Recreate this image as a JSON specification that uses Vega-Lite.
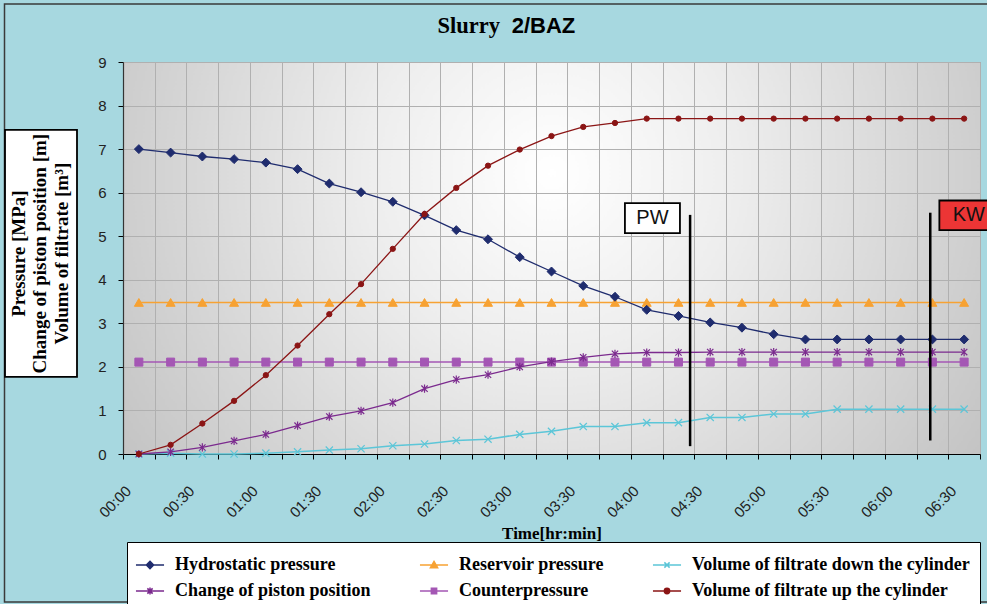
{
  "$schema": "https://vega.github.io/schema/vega-lite/v6.json",
  "width": 857,
  "height": 392,
  "autosize": "none",
  "padding": {"left": 123, "top": 62, "right": 7, "bottom": 150},
  "background": "#a7d8e0",
  "view": {
    "stroke": "#8c8c8c",
    "strokeWidth": 1,
    "fill": {"gradient": "radial", "x1": 0.5, "y1": 0.4, "r1": 0, "x2": 0.5, "y2": 0.4, "r2": 0.62,
      "stops": [{"offset": 0, "color": "#ffffff"}, {"offset": 0.35, "color": "#ededed"}, {"offset": 1, "color": "#c1c1c1"}]}
  },
  "config": {"font": "Liberation Sans"},
  "datasets": {
    "series": [
      {"t": 0, "Hydrostatic pressure": 7.0, "Reservoir pressure": 3.48, "Volume of filtrate down the cylinder": 0, "Change of piston position": 0, "Counterpressure": 2.11, "Volume of filtrate up the cylinder": 0},
      {"t": 15, "Hydrostatic pressure": 6.92, "Reservoir pressure": 3.48, "Volume of filtrate down the cylinder": 0.02, "Change of piston position": 0.05, "Counterpressure": 2.11, "Volume of filtrate up the cylinder": 0.21},
      {"t": 30, "Hydrostatic pressure": 6.83, "Reservoir pressure": 3.48, "Volume of filtrate down the cylinder": 0, "Change of piston position": 0.15, "Counterpressure": 2.11, "Volume of filtrate up the cylinder": 0.70},
      {"t": 45, "Hydrostatic pressure": 6.77, "Reservoir pressure": 3.48, "Volume of filtrate down the cylinder": 0, "Change of piston position": 0.30, "Counterpressure": 2.11, "Volume of filtrate up the cylinder": 1.22},
      {"t": 60, "Hydrostatic pressure": 6.69, "Reservoir pressure": 3.48, "Volume of filtrate down the cylinder": 0.02, "Change of piston position": 0.45, "Counterpressure": 2.11, "Volume of filtrate up the cylinder": 1.81},
      {"t": 75, "Hydrostatic pressure": 6.54, "Reservoir pressure": 3.48, "Volume of filtrate down the cylinder": 0.05, "Change of piston position": 0.65, "Counterpressure": 2.11, "Volume of filtrate up the cylinder": 2.49},
      {"t": 90, "Hydrostatic pressure": 6.21, "Reservoir pressure": 3.48, "Volume of filtrate down the cylinder": 0.09, "Change of piston position": 0.86, "Counterpressure": 2.11, "Volume of filtrate up the cylinder": 3.21},
      {"t": 105, "Hydrostatic pressure": 6.01, "Reservoir pressure": 3.48, "Volume of filtrate down the cylinder": 0.12, "Change of piston position": 0.99, "Counterpressure": 2.11, "Volume of filtrate up the cylinder": 3.90},
      {"t": 120, "Hydrostatic pressure": 5.79, "Reservoir pressure": 3.48, "Volume of filtrate down the cylinder": 0.19, "Change of piston position": 1.18, "Counterpressure": 2.11, "Volume of filtrate up the cylinder": 4.71},
      {"t": 135, "Hydrostatic pressure": 5.48, "Reservoir pressure": 3.48, "Volume of filtrate down the cylinder": 0.23, "Change of piston position": 1.50, "Counterpressure": 2.11, "Volume of filtrate up the cylinder": 5.51},
      {"t": 150, "Hydrostatic pressure": 5.14, "Reservoir pressure": 3.48, "Volume of filtrate down the cylinder": 0.31, "Change of piston position": 1.71, "Counterpressure": 2.11, "Volume of filtrate up the cylinder": 6.11},
      {"t": 165, "Hydrostatic pressure": 4.93, "Reservoir pressure": 3.48, "Volume of filtrate down the cylinder": 0.34, "Change of piston position": 1.82, "Counterpressure": 2.11, "Volume of filtrate up the cylinder": 6.62},
      {"t": 180, "Hydrostatic pressure": 4.52, "Reservoir pressure": 3.48, "Volume of filtrate down the cylinder": 0.45, "Change of piston position": 2.00, "Counterpressure": 2.11, "Volume of filtrate up the cylinder": 6.99},
      {"t": 195, "Hydrostatic pressure": 4.19, "Reservoir pressure": 3.48, "Volume of filtrate down the cylinder": 0.52, "Change of piston position": 2.12, "Counterpressure": 2.11, "Volume of filtrate up the cylinder": 7.30},
      {"t": 210, "Hydrostatic pressure": 3.86, "Reservoir pressure": 3.48, "Volume of filtrate down the cylinder": 0.63, "Change of piston position": 2.22, "Counterpressure": 2.11, "Volume of filtrate up the cylinder": 7.51},
      {"t": 225, "Hydrostatic pressure": 3.61, "Reservoir pressure": 3.48, "Volume of filtrate down the cylinder": 0.63, "Change of piston position": 2.30, "Counterpressure": 2.11, "Volume of filtrate up the cylinder": 7.60},
      {"t": 240, "Hydrostatic pressure": 3.31, "Reservoir pressure": 3.48, "Volume of filtrate down the cylinder": 0.72, "Change of piston position": 2.33, "Counterpressure": 2.11, "Volume of filtrate up the cylinder": 7.70},
      {"t": 255, "Hydrostatic pressure": 3.17, "Reservoir pressure": 3.48, "Volume of filtrate down the cylinder": 0.72, "Change of piston position": 2.33, "Counterpressure": 2.11, "Volume of filtrate up the cylinder": 7.70},
      {"t": 270, "Hydrostatic pressure": 3.02, "Reservoir pressure": 3.48, "Volume of filtrate down the cylinder": 0.84, "Change of piston position": 2.34, "Counterpressure": 2.11, "Volume of filtrate up the cylinder": 7.70},
      {"t": 285, "Hydrostatic pressure": 2.90, "Reservoir pressure": 3.48, "Volume of filtrate down the cylinder": 0.84, "Change of piston position": 2.34, "Counterpressure": 2.11, "Volume of filtrate up the cylinder": 7.70},
      {"t": 300, "Hydrostatic pressure": 2.75, "Reservoir pressure": 3.48, "Volume of filtrate down the cylinder": 0.92, "Change of piston position": 2.34, "Counterpressure": 2.11, "Volume of filtrate up the cylinder": 7.70},
      {"t": 315, "Hydrostatic pressure": 2.63, "Reservoir pressure": 3.48, "Volume of filtrate down the cylinder": 0.92, "Change of piston position": 2.34, "Counterpressure": 2.11, "Volume of filtrate up the cylinder": 7.70},
      {"t": 330, "Hydrostatic pressure": 2.63, "Reservoir pressure": 3.48, "Volume of filtrate down the cylinder": 1.03, "Change of piston position": 2.34, "Counterpressure": 2.11, "Volume of filtrate up the cylinder": 7.70},
      {"t": 345, "Hydrostatic pressure": 2.63, "Reservoir pressure": 3.48, "Volume of filtrate down the cylinder": 1.03, "Change of piston position": 2.34, "Counterpressure": 2.11, "Volume of filtrate up the cylinder": 7.70},
      {"t": 360, "Hydrostatic pressure": 2.63, "Reservoir pressure": 3.48, "Volume of filtrate down the cylinder": 1.03, "Change of piston position": 2.34, "Counterpressure": 2.11, "Volume of filtrate up the cylinder": 7.70},
      {"t": 375, "Hydrostatic pressure": 2.63, "Reservoir pressure": 3.48, "Volume of filtrate down the cylinder": 1.03, "Change of piston position": 2.34, "Counterpressure": 2.11, "Volume of filtrate up the cylinder": 7.70},
      {"t": 390, "Hydrostatic pressure": 2.63, "Reservoir pressure": 3.48, "Volume of filtrate down the cylinder": 1.03, "Change of piston position": 2.34, "Counterpressure": 2.11, "Volume of filtrate up the cylinder": 7.70}
    ],
    "frame": [
      {"label": "frame", "t": -63.5, "t2": 420, "v": 10.33, "v2": -3.40}
    ],
    "title1": [
      {"label": "Slurry", "t": 170.66, "v": 9.666}
    ],
    "title2": [
      {"label": "2/BAZ", "t": 176.19, "v": 9.666}
    ],
    "boxes": [
      {"label": "axis", "t": -63.26, "t2": -29.24, "v": 7.44, "v2": 1.77},
      {"label": "PW", "t": 229.7, "t2": 255.7, "v": 5.76, "v2": 5.07},
      {"label": "KW", "t": 378.3, "t2": 406, "v": 5.82, "v2": 5.14}
    ],
    "boxtext": [
      {"label": "PW", "t": 242.7, "v": 5.42},
      {"label": "KW", "t": 392.2, "v": 5.48}
    ],
    "ytitle": [
      {"label": "Pressure [MPa]\nChange of piston position [m]\nVolume of filtrate [m³]", "t": -56.65, "v": 4.6}
    ],
    "markers": [
      {"label": "PW", "t": 260.5, "v": 0.18, "v2": 5.49},
      {"label": "KW", "t": 374, "v": 0.31, "v2": 5.54}
    ]
  },
  "encoding": {
    "x": {
      "field": "t", "type": "quantitative",
      "scale": {"domain": [-7.5, 397.5], "nice": false, "zero": false},
      "axis": {
        "values": [-7.5, 7.5, 22.5, 37.5, 52.5, 67.5, 82.5, 97.5, 112.5, 127.5, 142.5, 157.5, 172.5, 187.5, 202.5, 217.5, 232.5, 247.5, 262.5, 277.5, 292.5, 307.5, 322.5, 337.5, 352.5, 367.5, 382.5, 397.5],
        "labelExpr": "(datum.value + 7.5) % 30 == 0 ? pad(toString(floor((datum.value + 7.5) / 60)), 2, '0', 'left') + ':' + pad(toString((datum.value + 7.5) % 60), 2, '0', 'left') : ''",
        "labelAngle": -45, "labelAlign": "right", "labelBaseline": "middle",
        "labelOffset": 5, "labelPadding": 29, "labelOverlap": false, "labelFlush": false, "labelBound": false,
        "labelFont": "Liberation Sans", "labelFontSize": 15, "labelColor": "#222222",
        "tickSize": 5, "tickColor": "#000000", "domainColor": "#000000", "domainWidth": 1.2,
        "grid": true, "gridColor": "#b0b0b0", "gridWidth": 1,
        "title": "Time[hr:min]", "titleFont": "Liberation Serif", "titleFontSize": 17, "titleFontWeight": "bold", "titleColor": "#000000", "titlePadding": 5
      }
    },
    "y": {
      "field": "v", "type": "quantitative",
      "scale": {"domain": [0, 9], "nice": false, "zero": false},
      "axis": {
        "values": [0, 1, 2, 3, 4, 5, 6, 7, 8, 9],
        "labelFont": "Liberation Sans", "labelFontSize": 15, "labelColor": "#222222", "labelPadding": 12,
        "tickSize": 5, "tickColor": "#000000", "domainColor": "#333333", "domainWidth": 1.2,
        "grid": true, "gridColor": "#b0b0b0", "gridWidth": 1,
        "title": null
      }
    }
  },
  "layer": [
    {
      "data": {"name": "frame"},
      "mark": {"type": "rect", "filled": false, "stroke": "#3a3a3a", "strokeWidth": 1.5},
      "encoding": {
        "x2": {"field": "t2"},
        "y2": {"field": "v2"}
      }
    },
    {
      "data": {"name": "title1"},
      "mark": {"type": "text", "font": "Liberation Serif", "fontSize": 22.5, "fontWeight": "bold", "color": "#000000", "align": "right", "baseline": "alphabetic"},
      "encoding": {"text": {"field": "label"}}
    },
    {
      "data": {"name": "title2"},
      "mark": {"type": "text", "font": "Liberation Sans", "fontSize": 22, "fontWeight": "bold", "color": "#000000", "align": "left", "baseline": "alphabetic"},
      "encoding": {"text": {"field": "label"}}
    },
    {
      "data": {"name": "boxes"},
      "mark": {"type": "rect", "stroke": "#000000", "strokeWidth": 1.8},
      "encoding": {
        "x2": {"field": "t2"},
        "y2": {"field": "v2"},
        "fill": {"condition": {"test": "datum.label == 'KW'", "value": "#ec3535"}, "value": "#ffffff"}
      }
    },
    {
      "data": {"name": "boxtext"},
      "mark": {"type": "text", "font": "Liberation Sans", "fontSize": 20, "color": "#111111", "align": "center", "baseline": "middle"},
      "encoding": {"text": {"field": "label"}}
    },
    {
      "data": {"name": "ytitle"},
      "mark": {"type": "text", "font": "Liberation Serif", "fontSize": 19, "fontWeight": "bold", "color": "#000000", "align": "center", "baseline": "middle", "angle": 270, "lineBreak": "\n", "lineHeight": 21.5},
      "encoding": {"text": {"field": "label"}}
    },
    {
      "data": {"name": "series"},
      "transform": [{"fold": ["Hydrostatic pressure", "Reservoir pressure", "Volume of filtrate down the cylinder", "Change of piston position", "Counterpressure", "Volume of filtrate up the cylinder"], "as": ["series", "v"]}],
      "layer": [
        {
          "transform": [{"filter": "datum.series == 'Counterpressure'"}],
          "layer": [
            {"mark": {"type": "line", "color": "#a457b4", "strokeWidth": 1.5}},
            {"mark": {"type": "point", "shape": "square", "filled": true, "size": 64, "color": "#a457b4", "stroke": "#a457b4", "strokeWidth": 1, "opacity": 1}}
          ]
        },
        {
          "transform": [{"filter": "datum.series == 'Reservoir pressure'"}],
          "layer": [
            {"mark": {"type": "line", "color": "#f7a233", "strokeWidth": 1.5}},
            {"mark": {"type": "point", "shape": "triangle-up", "filled": true, "size": 80, "color": "#f7a233", "stroke": "#f7a233", "strokeWidth": 1, "opacity": 1}}
          ]
        },
        {
          "transform": [{"filter": "datum.series == 'Volume of filtrate down the cylinder'"}],
          "layer": [
            {"mark": {"type": "line", "color": "#5cc6d8", "strokeWidth": 1.5}},
            {"mark": {"type": "point", "shape": "M-1,-1L1,1M-1,1L1,-1", "filled": false, "size": 52, "color": "#5cc6d8", "strokeWidth": 1.2, "opacity": 1}}
          ]
        },
        {
          "transform": [{"filter": "datum.series == 'Change of piston position'"}],
          "layer": [
            {"mark": {"type": "line", "color": "#7b2a8e", "strokeWidth": 1.3}},
            {"mark": {"type": "point", "shape": "M-1,-1L1,1M-1,1L1,-1M0,-1.3V1.3", "filled": false, "size": 40, "color": "#7b2a8e", "strokeWidth": 1.2, "opacity": 1}}
          ]
        },
        {
          "transform": [{"filter": "datum.series == 'Hydrostatic pressure'"}],
          "layer": [
            {"mark": {"type": "line", "color": "#1f2c6e", "strokeWidth": 1.3}},
            {"mark": {"type": "point", "shape": "diamond", "filled": true, "size": 80, "color": "#1f2c6e", "stroke": "#1f2c6e", "strokeWidth": 1, "opacity": 1}}
          ]
        },
        {
          "transform": [{"filter": "datum.series == 'Volume of filtrate up the cylinder'"}],
          "layer": [
            {"mark": {"type": "line", "color": "#8b1515", "strokeWidth": 1.3}},
            {"mark": {"type": "point", "shape": "circle", "filled": true, "size": 28, "color": "#8b1515", "stroke": "#8b1515", "strokeWidth": 1, "opacity": 1}}
          ]
        },
        {
          "transform": [{"filter": "datum.t < -1000"}],
          "mark": {"type": "point", "filled": true, "opacity": 1},
          "encoding": {
            "color": {"field": "series", "type": "nominal",
              "scale": {"domain": ["Hydrostatic pressure", "Reservoir pressure", "Volume of filtrate down the cylinder", "Change of piston position", "Counterpressure", "Volume of filtrate up the cylinder"],
                        "range": ["#1f2c6e", "#f7a233", "#5cc6d8", "#7b2a8e", "#a457b4", "#8b1515"]},
              "legend": {"orient": "none", "legendX": 4, "legendY": 480, "columns": 3, "direction": "horizontal", "title": null,
                "symbolSize": 576, "symbolStrokeWidth": 1.5,
                "labelFont": "Liberation Serif", "labelFontSize": 18, "labelFontWeight": "bold", "labelColor": "#000000", "labelLimit": 400, "labelOffset": 12,
                "columnPadding": 45, "rowPadding": 4, "padding": 10, "fillColor": "#ffffff", "strokeColor": "#000000"}},
            "stroke": {"field": "series", "type": "nominal",
              "scale": {"domain": ["Hydrostatic pressure", "Reservoir pressure", "Volume of filtrate down the cylinder", "Change of piston position", "Counterpressure", "Volume of filtrate up the cylinder"],
                        "range": ["#1f2c6e", "#f7a233", "#5cc6d8", "#7b2a8e", "#a457b4", "#8b1515"]},
              "legend": {"orient": "none", "legendX": 4, "legendY": 480, "columns": 3, "direction": "horizontal", "title": null,
                "symbolSize": 576, "symbolStrokeWidth": 1.5,
                "labelFont": "Liberation Serif", "labelFontSize": 18, "labelFontWeight": "bold", "labelColor": "#000000", "labelLimit": 400, "labelOffset": 12,
                "columnPadding": 45, "rowPadding": 4, "padding": 10, "fillColor": "#ffffff", "strokeColor": "#000000"}},
            "shape": {"field": "series", "type": "nominal",
              "scale": {"domain": ["Hydrostatic pressure", "Reservoir pressure", "Volume of filtrate down the cylinder", "Change of piston position", "Counterpressure", "Volume of filtrate up the cylinder"],
                        "range": [
                          "M-1.17,0H1.17M0,-0.3L0.3,0L0,0.3L-0.3,0Z",
                          "M-1.17,0H1.17M0,-0.3L0.3,0.22L-0.3,0.22Z",
                          "M-1.17,0H1.17M-0.22,-0.22L0.22,0.22M-0.22,0.22L0.22,-0.22",
                          "M-1.17,0H1.17M-0.22,-0.22L0.22,0.22M-0.22,0.22L0.22,-0.22M0,-0.3V0.3",
                          "M-1.17,0H1.17M-0.22,-0.22H0.22V0.22H-0.22Z",
                          "M-1.17,0H1.17M-0.22,0A0.22,0.22,0,1,0,0.22,0A0.22,0.22,0,1,0,-0.22,0Z"
                        ]},
              "legend": {"orient": "none", "legendX": 4, "legendY": 480, "columns": 3, "direction": "horizontal", "title": null,
                "symbolSize": 576, "symbolStrokeWidth": 1.5,
                "labelFont": "Liberation Serif", "labelFontSize": 18, "labelFontWeight": "bold", "labelColor": "#000000", "labelLimit": 400, "labelOffset": 12,
                "columnPadding": 45, "rowPadding": 4, "padding": 10, "fillColor": "#ffffff", "strokeColor": "#000000"}}
          }
        }
      ]
    },
    {
      "data": {"name": "markers"},
      "mark": {"type": "rule", "color": "#000000", "strokeWidth": 2.5},
      "encoding": {"y2": {"field": "v2"}}
    }
  ]
}
